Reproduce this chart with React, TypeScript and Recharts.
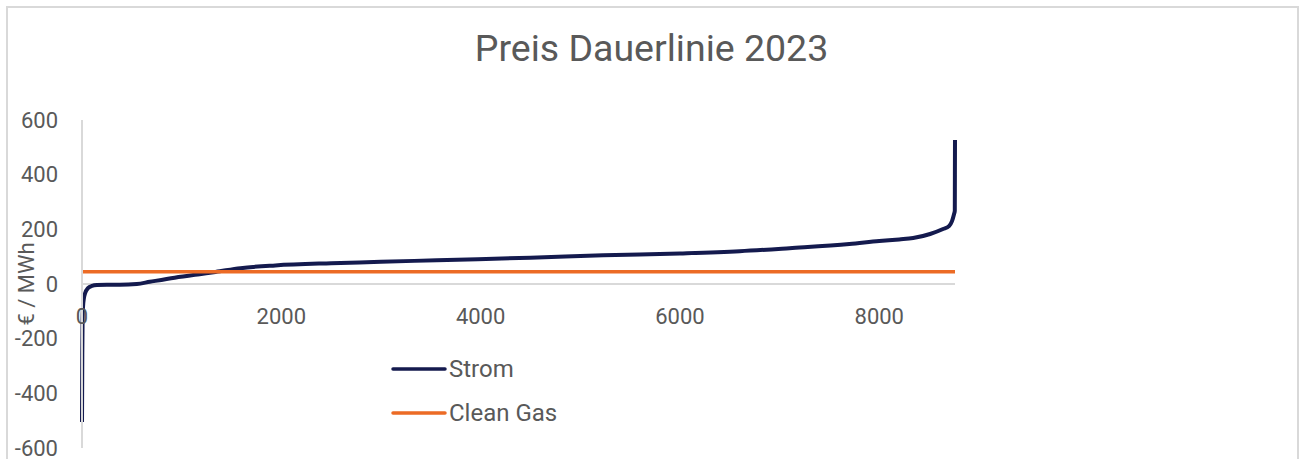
import React from "react";
import { LineChart, Line, XAxis, YAxis, ReferenceLine, Legend } from "recharts";

// Strom price duration curve 2023 (hours sorted by price)
const HOURS = [
  0, 3, 6, 10, 20, 30, 60, 100, 150, 250, 380, 550, 680, 930, 1180, 1340, 1590,
  1940, 2500, 3000, 3560, 4500, 5230, 6000, 6600, 7100, 7700, 8000, 8200, 8340,
  8510, 8640, 8700, 8730, 8750, 8758, 8759, 8760,
];
const STROM = [
  -505, -260, -130, -85, -50, -35, -15, -7, -4, -3, -3, 0, 8, 23, 36, 44, 58,
  68, 76, 81, 87, 96, 105, 112, 120, 131, 146, 157, 163, 168, 183, 201, 212,
  230, 255, 268, 400, 527,
];
const GAS_HOURS = [0, 8760];
const CLEAN_GAS = [45, 45];

const X_TICKS = [0, 2000, 4000, 6000, 8000];
const Y_TICKS = [-600, -400, -200, 0, 200, 400, 600];
const SERIES = ["Strom", "Clean Gas"];

const stromData = HOURS.map((h, i) => ({ hour: h, value: STROM[i] }));
const gasData = GAS_HOURS.map((h, i) => ({ hour: h, value: CLEAN_GAS[i] }));

const WIDTH = 1301;
const HEIGHT = 459;
const MARGIN = { top: 120, right: 346, bottom: 10, left: 22 };
const X_AXIS_H = 1;
const PLOT_H = HEIGHT - MARGIN.top - MARGIN.bottom - X_AXIS_H;
const ZERO_Y = MARGIN.top + PLOT_H / 2; // y = 0 sits in the middle of -600..600

const FONT = "Roboto, 'Noto Sans', sans-serif";
const TEXT = "#595959";
const GRID = "#d9d9d9";
const NAVY = "#141a4e";
const ORANGE = "#ec6b25";

// Excel draws the category labels under the zero line, not at the bottom
function XTick({ x, payload }: { x?: number; payload?: { value: number } }) {
  return (
    <text x={x} y={ZERO_Y + 40} textAnchor="middle" fill={TEXT} fontSize={22} fontFamily={FONT}>
      {payload?.value}
    </text>
  );
}

function YLabel({ viewBox }: { viewBox?: { x: number; y: number; height: number } }) {
  if (!viewBox) return null;
  const cx = viewBox.x + 4;
  const cy = viewBox.y + viewBox.height / 2;
  return (
    <text
      x={cx}
      y={cy}
      transform={`rotate(-90 ${cx} ${cy})`}
      textAnchor="middle"
      dominantBaseline="central"
      fill={TEXT}
      fontSize={22}
      fontFamily={FONT}
    >
      € / MWh
    </text>
  );
}

function LegendContent({ payload }: { payload?: Array<{ value: string; color: string }> }) {
  if (!payload) return null;
  const items = [...payload].sort((a, b) => SERIES.indexOf(a.value) - SERIES.indexOf(b.value));
  return (
    <div>
      {items.map((entry) => (
        <div key={entry.value} style={{ display: "flex", alignItems: "center", height: 44 }}>
          <svg width={58} height={8}>
            <line x1={3} y1={4} x2={55} y2={4} stroke={entry.color} strokeWidth={3.5} strokeLinecap="round" />
          </svg>
          <span style={{ fontSize: 24, color: TEXT, fontFamily: FONT, marginLeft: 1 }}>{entry.value}</span>
        </div>
      ))}
    </div>
  );
}

export default function App() {
  return (
    <div
      style={{
        position: "absolute",
        left: 0,
        top: 0,
        width: WIDTH,
        height: HEIGHT,
        overflow: "hidden",
        background: "#fff",
        fontFamily: FONT,
      }}
    >
      <div
        style={{
          position: "absolute",
          left: 6,
          top: 6,
          width: 1289,
          height: 600,
          border: `2px solid ${GRID}`,
        }}
      />
      <div
        style={{
          position: "absolute",
          left: 6,
          width: 1291,
          top: 25,
          textAlign: "center",
          fontSize: 37.5,
          color: TEXT,
          lineHeight: "46px",
        }}
      >
        Preis Dauerlinie 2023
      </div>
      <div style={{ position: "absolute", left: 0, top: 0 }}>
        <LineChart width={WIDTH} height={HEIGHT} margin={MARGIN}>
          <ReferenceLine y={0} stroke={GRID} strokeWidth={2} />
          <XAxis
            dataKey="hour"
            type="number"
            domain={[0, 8760]}
            ticks={X_TICKS}
            interval={0}
            height={X_AXIS_H}
            axisLine={false}
            tickLine={false}
            tick={<XTick />}
          />
          <YAxis
            type="number"
            domain={[-600, 600]}
            ticks={Y_TICKS}
            interval={0}
            width={60}
            axisLine={{ stroke: GRID, strokeWidth: 2 }}
            tickLine={false}
            tickMargin={18}
            tick={{ fill: TEXT, fontSize: 22, fontFamily: FONT }}
            label={<YLabel />}
          />
          <Legend
            layout="vertical"
            align="center"
            verticalAlign="middle"
            content={<LegendContent />}
            wrapperStyle={{ left: 390, top: 347, width: "auto" }}
          />
          <Line
            data={stromData}
            dataKey="value"
            name="Strom"
            type="monotone"
            stroke={NAVY}
            strokeWidth={4}
            dot={false}
            isAnimationActive={false}
          />
          <Line
            data={gasData}
            dataKey="value"
            name="Clean Gas"
            type="linear"
            stroke={ORANGE}
            strokeWidth={3.5}
            dot={false}
            isAnimationActive={false}
          />
        </LineChart>
      </div>
    </div>
  );
}
